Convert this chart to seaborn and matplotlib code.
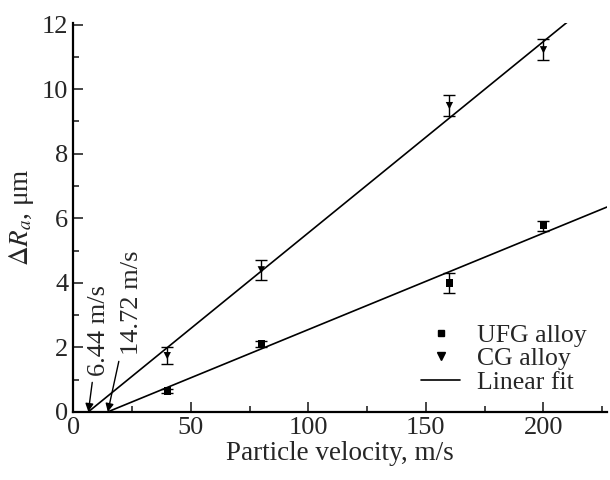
import numpy as np
import pandas as pd
import matplotlib
matplotlib.use('Agg')
import matplotlib.pyplot as plt
from matplotlib.ticker import MultipleLocator
from matplotlib.lines import Line2D
import seaborn as sns

# Data
velocity = [40, 80, 160, 200]
ufg_ra = [0.65, 2.10, 3.99, 5.77]
ufg_err = [0.07, 0.10, 0.31, 0.16]
cg_ra = [1.74, 4.40, 9.49, 11.22]
cg_err = [0.26, 0.31, 0.33, 0.32]

# Linear fits: x-intercept (threshold velocity) and slope
fit_names = ['UFG alloy', 'CG alloy']
fit_v0 = [14.72, 6.44]
fit_slope = [0.0299, 0.0593]
v_max = 227

sns.set_style('ticks')
plt.rcParams['font.family'] = ['Liberation Serif', 'DejaVu Serif']
plt.rcParams['mathtext.fontset'] = 'stix'
plt.rcParams['xtick.direction'] = 'in'
plt.rcParams['ytick.direction'] = 'in'

fig = plt.figure(figsize=(6.1, 4.8), dpi=100)
ax = fig.add_axes([0.12, 0.142, 0.875, 0.81])

pts = pd.DataFrame({
    'v': velocity * 2,
    'ra': ufg_ra + cg_ra,
    'err': ufg_err + cg_err,
    'alloy': ['UFG alloy'] * 4 + ['CG alloy'] * 4,
})

ax.errorbar(pts['v'], pts['ra'], yerr=pts['err'], fmt='none', ecolor='black',
            elinewidth=1.0, capsize=4, capthick=1.0, zorder=2)

sns.scatterplot(data=pts, x='v', y='ra', style='alloy',
                markers={'UFG alloy': 's', 'CG alloy': 'v'},
                color='black', s=28, edgecolor='black', linewidth=0,
                ax=ax, zorder=3, legend=False)

fit_rows = []
for name, v0, k in zip(fit_names, fit_v0, fit_slope):
    for v in (v0, v_max):
        fit_rows.append({'v': v, 'ra': k * (v - v0), 'fit': name})
fits = pd.DataFrame(fit_rows)
sns.lineplot(data=fits, x='v', y='ra', units='fit', estimator=None,
             color='black', linewidth=1.2, ax=ax, legend=False)

# annotations for threshold velocities
ax.annotate('6.44 m/s', xy=(fit_v0[1], 0), xytext=(11.0, 1.1), rotation=90,
            ha='center', va='bottom', fontsize=19,
            arrowprops=dict(arrowstyle='-|>', color='black', lw=1,
                            shrinkA=2, shrinkB=0, mutation_scale=12))
ax.annotate('14.72 m/s', xy=(fit_v0[0], 0), xytext=(24.8, 1.75), rotation=90,
            ha='center', va='bottom', fontsize=19,
            arrowprops=dict(arrowstyle='-|>', color='black', lw=1,
                            shrinkA=2, shrinkB=0, mutation_scale=12))

ax.set_xlim(0, v_max)
ax.set_ylim(0, 12.05)
ax.xaxis.set_major_locator(MultipleLocator(50))
ax.xaxis.set_minor_locator(MultipleLocator(25))
ax.yaxis.set_major_locator(MultipleLocator(2))
ax.yaxis.set_minor_locator(MultipleLocator(1))
ax.tick_params(which='major', length=7, width=1.2, labelsize=19)
ax.tick_params(which='minor', length=4, width=1.2)
sns.despine(ax=ax)
for s in ('left', 'bottom'):
    ax.spines[s].set_linewidth(1.6)
    ax.spines[s].set_color('black')

ax.set_xlabel('Particle velocity, m/s', fontsize=19.5, labelpad=2)
ax.set_ylabel(r'$\Delta R_a$, μm', fontsize=19.5, labelpad=4)

# legend
handles = [
    Line2D([], [], marker='s', color='black', linestyle='none', markersize=5),
    Line2D([], [], marker='v', color='black', linestyle='none', markersize=6),
    Line2D([], [], color='black', linewidth=1.2),
]
ax.legend(handles, ['UFG alloy', 'CG alloy', 'Linear fit'], loc='lower right',
          frameon=False, fontsize=18.5, handlelength=1.5, labelspacing=0.02,
          handletextpad=0.65, borderaxespad=0.3, bbox_to_anchor=(0.995, 0.0))

fig.savefig('out.png', dpi=100)
